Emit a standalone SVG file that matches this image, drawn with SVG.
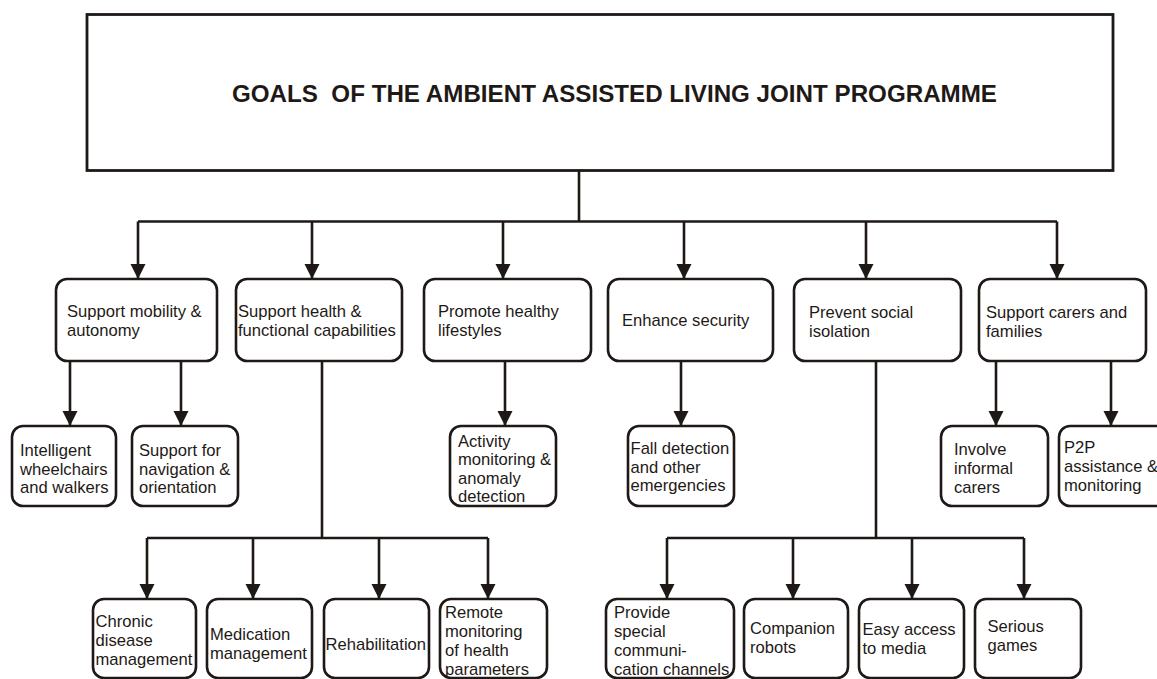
<svg xmlns="http://www.w3.org/2000/svg" width="1157" height="679" viewBox="0 0 1157 679">
<style>
.box{fill:#fff;stroke:#1e1916;stroke-width:2.6}
.t{font-family:"Liberation Sans",Arial,sans-serif;font-size:16.6px;fill:#1e1916}
.title{font-family:"Liberation Sans",Arial,sans-serif;font-size:24px;font-weight:bold;fill:#1e1916}
.c{fill:none;stroke:#1e1916;stroke-width:2.6}
</style>
<defs>
<marker id="ah" markerUnits="userSpaceOnUse" markerWidth="16" markerHeight="16" refX="15" refY="7.5" orient="auto">
<path d="M0,0 L15,7.5 L0,15 Z" fill="#1e1916"/>
</marker>
</defs>
<rect width="1157" height="679" fill="#fff"/>
<g id="connectors">
<line class="c" x1="579" y1="171" x2="579" y2="221.5" stroke-width="3.4"/>
<line class="c" x1="138" y1="221.5" x2="1057" y2="221.5"/>
<line class="c" x1="138" y1="221.5" x2="138" y2="279" marker-end="url(#ah)"/>
<line class="c" x1="312" y1="221.5" x2="312" y2="279" marker-end="url(#ah)"/>
<line class="c" x1="503" y1="221.5" x2="503" y2="279" marker-end="url(#ah)"/>
<line class="c" x1="684" y1="221.5" x2="684" y2="279" marker-end="url(#ah)"/>
<line class="c" x1="866" y1="221.5" x2="866" y2="279" marker-end="url(#ah)"/>
<line class="c" x1="1057" y1="221.5" x2="1057" y2="279" marker-end="url(#ah)"/>
<line class="c" x1="70" y1="361" x2="70" y2="426" marker-end="url(#ah)"/>
<line class="c" x1="181" y1="361" x2="181" y2="426" marker-end="url(#ah)"/>
<line class="c" x1="505" y1="361" x2="505" y2="426" marker-end="url(#ah)"/>
<line class="c" x1="681" y1="361" x2="681" y2="426" marker-end="url(#ah)"/>
<line class="c" x1="996" y1="361" x2="996" y2="426" marker-end="url(#ah)"/>
<line class="c" x1="1111" y1="361" x2="1111" y2="426" marker-end="url(#ah)"/>
<line class="c" x1="322" y1="361" x2="322" y2="538"/>
<line class="c" x1="147" y1="538" x2="488" y2="538"/>
<line class="c" x1="147" y1="538" x2="147" y2="599" marker-end="url(#ah)"/>
<line class="c" x1="253" y1="538" x2="253" y2="599" marker-end="url(#ah)"/>
<line class="c" x1="379" y1="538" x2="379" y2="599" marker-end="url(#ah)"/>
<line class="c" x1="488" y1="538" x2="488" y2="599" marker-end="url(#ah)"/>
<line class="c" x1="876" y1="361" x2="876" y2="538"/>
<line class="c" x1="667" y1="538" x2="1024" y2="538"/>
<line class="c" x1="667" y1="538" x2="667" y2="599" marker-end="url(#ah)"/>
<line class="c" x1="793" y1="538" x2="793" y2="599" marker-end="url(#ah)"/>
<line class="c" x1="912" y1="538" x2="912" y2="599" marker-end="url(#ah)"/>
<line class="c" x1="1024" y1="538" x2="1024" y2="599" marker-end="url(#ah)"/>
</g>
<g id="root">
<rect x="87" y="14.5" width="1026" height="156" fill="#fff" stroke="#1e1916" stroke-width="2.8"/>
<text class="title" x="232" y="102" textLength="765" lengthAdjust="spacingAndGlyphs" xml:space="preserve">GOALS  OF THE AMBIENT ASSISTED LIVING JOINT PROGRAMME</text>
</g>
<g id="n-mobility"><rect class="box" x="56" y="279" width="161" height="82" rx="11"/>
<text class="t" x="67" y="317">Support mobility &amp;</text><text class="t" x="67" y="336">autonomy</text></g>
<g id="n-health"><rect class="box" x="236" y="279" width="166" height="82" rx="11"/>
<text class="t" x="238" y="317">Support health &amp;</text><text class="t" x="238" y="336">functional capabilities</text></g>
<g id="n-lifestyles"><rect class="box" x="424" y="279" width="167" height="82" rx="11"/>
<text class="t" x="438" y="317">Promote healthy</text><text class="t" x="438" y="336">lifestyles</text></g>
<g id="n-security"><rect class="box" x="608" y="279" width="165" height="82" rx="11"/>
<text class="t" x="622" y="326">Enhance security</text></g>
<g id="n-social"><rect class="box" x="794" y="279" width="167" height="82" rx="11"/>
<text class="t" x="809" y="318">Prevent social</text><text class="t" x="809" y="337">isolation</text></g>
<g id="n-carers"><rect class="box" x="979" y="279" width="167" height="82" rx="11"/>
<text class="t" x="986" y="318">Support carers and</text><text class="t" x="986" y="337">families</text></g>

<g id="n-wheelchairs"><rect class="box" x="12" y="426" width="104" height="80" rx="11"/>
<text class="t" x="20" y="456">Intelligent</text><text class="t" x="20" y="474.5">wheelchairs</text><text class="t" x="20" y="493">and walkers</text></g>
<g id="n-navigation"><rect class="box" x="132" y="426" width="106" height="80" rx="11"/>
<text class="t" x="139" y="456">Support for</text><text class="t" x="139" y="474.5">navigation &amp;</text><text class="t" x="139" y="493">orientation</text></g>
<g id="n-activity"><rect class="box" x="450" y="426" width="106" height="80" rx="11"/>
<text class="t" x="458" y="446.5">Activity</text><text class="t" x="458" y="465">monitoring &amp;</text><text class="t" x="458" y="483.5">anomaly</text><text class="t" x="458" y="502">detection</text></g>
<g id="n-fall"><rect class="box" x="628" y="426" width="106" height="80" rx="11"/>
<text class="t" x="630.5" y="454">Fall detection</text><text class="t" x="630.5" y="472.5">and other</text><text class="t" x="630.5" y="491">emergencies</text></g>
<g id="n-involve"><rect class="box" x="941" y="426" width="107" height="80" rx="11"/>
<text class="t" x="954" y="455">Involve</text><text class="t" x="954" y="473.5">informal</text><text class="t" x="954" y="492.5">carers</text></g>
<g id="n-p2p"><rect class="box" x="1059" y="426" width="110" height="80" rx="11"/>
<text class="t" x="1064" y="453">P2P</text><text class="t" x="1064" y="472">assistance &amp;</text><text class="t" x="1064" y="491">monitoring</text></g>

<g id="n-chronic"><rect class="box" x="93" y="599" width="103" height="79" rx="11"/>
<text class="t" x="95.5" y="627">Chronic</text><text class="t" x="95.5" y="646">disease</text><text class="t" x="95.5" y="665">management</text></g>
<g id="n-medication"><rect class="box" x="207" y="599" width="105" height="79" rx="11"/>
<text class="t" x="210" y="640">Medication</text><text class="t" x="210" y="659">management</text></g>
<g id="n-rehab"><rect class="box" x="324" y="599" width="105" height="79" rx="11"/>
<text class="t" x="325.5" y="650">Rehabilitation</text></g>
<g id="n-remote"><rect class="box" x="440" y="599" width="107" height="79" rx="11"/>
<text class="t" x="445" y="617.5">Remote</text><text class="t" x="445" y="636.5">monitoring</text><text class="t" x="445" y="655.5">of health</text><text class="t" x="445" y="674.5">parameters</text></g>
<g id="n-provide"><rect class="box" x="606" y="599" width="128" height="79" rx="11"/>
<text class="t" x="614" y="617.5">Provide</text><text class="t" x="614" y="636.5">special</text><text class="t" x="614" y="655.5">communi-</text><text class="t" x="614" y="674.5">cation channels</text></g>
<g id="n-companion"><rect class="box" x="744" y="599" width="104" height="79" rx="11"/>
<text class="t" x="750" y="633.5">Companion</text><text class="t" x="750" y="652.5">robots</text></g>
<g id="n-media"><rect class="box" x="859" y="599" width="105" height="79" rx="11"/>
<text class="t" x="862.5" y="635">Easy access</text><text class="t" x="862.5" y="653.5">to media</text></g>
<g id="n-games"><rect class="box" x="975" y="599" width="106" height="79" rx="11"/>
<text class="t" x="987.5" y="632">Serious</text><text class="t" x="987.5" y="651">games</text></g>
</svg>
